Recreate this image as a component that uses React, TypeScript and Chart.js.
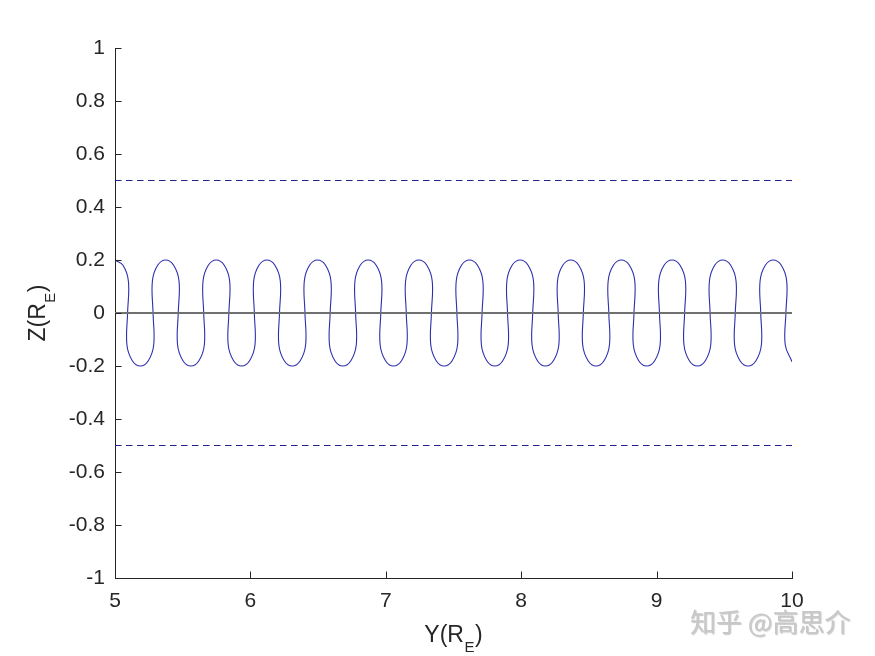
import React, { useEffect, useRef } from 'react';
import { Chart, registerables } from 'chart.js';

Chart.register(...registerables);

const xTickValues = [5, 6, 7, 8, 9, 10];
const xTickLabels = ['5', '6', '7', '8', '9', '10'];
const yTickValues = [-1, -0.8, -0.6, -0.4, -0.2, 0, 0.2, 0.4, 0.6, 0.8, 1];
const yTickLabels = ['-1', '-0.8', '-0.6', '-0.4', '-0.2', '0', '0.2', '0.4', '0.6', '0.8', '1'];

const boundaryY = [5, 10];
const upperBoundZ = [0.5, 0.5];
const lowerBoundZ = [-0.5, -0.5];
const centerZ = [0, 0];

const curveY = [
  5.000, 5.059, 5.099, 5.093, 5.088, 5.128, 5.187, 5.246, 5.286, 5.281, 5.276, 5.315,
  5.374, 5.433, 5.473, 5.467, 5.462, 5.502, 5.561, 5.620, 5.660, 5.655, 5.650, 5.689,
  5.748, 5.807, 5.847, 5.841, 5.836, 5.876, 5.935, 5.994, 6.034, 6.029, 6.024, 6.063,
  6.122, 6.181, 6.221, 6.215, 6.210, 6.250, 6.309, 6.368, 6.408, 6.403, 6.398, 6.437,
  6.496, 6.555, 6.595, 6.589, 6.584, 6.624, 6.683, 6.742, 6.782, 6.777, 6.772, 6.811,
  6.870, 6.929, 6.969, 6.963, 6.958, 6.998, 7.057, 7.116, 7.156, 7.151, 7.146, 7.185,
  7.244, 7.303, 7.343, 7.337, 7.332, 7.372, 7.431, 7.490, 7.530, 7.525, 7.520, 7.559,
  7.618, 7.677, 7.717, 7.711, 7.706, 7.746, 7.805, 7.864, 7.904, 7.899, 7.894, 7.933,
  7.992, 8.051, 8.091, 8.085, 8.080, 8.120, 8.179, 8.238, 8.278, 8.273, 8.268, 8.307,
  8.366, 8.425, 8.465, 8.459, 8.454, 8.494, 8.553, 8.612, 8.652, 8.647, 8.642, 8.681,
  8.740, 8.799, 8.839, 8.833, 8.828, 8.868, 8.927, 8.986, 9.026, 9.021, 9.016, 9.055,
  9.114, 9.173, 9.213, 9.207, 9.202, 9.242, 9.301, 9.360, 9.400, 9.395, 9.390, 9.429,
  9.488, 9.547, 9.587, 9.581, 9.576, 9.616, 9.675, 9.734, 9.774, 9.769, 9.764, 9.803,
  9.862, 9.921, 9.961, 9.955, 9.950, 10.000,
];

const curveZ = [
  0.2, 0.18, 0.12, 0, -0.12, -0.18, -0.2, -0.18, -0.12, 0, 0.12, 0.18,
  0.2, 0.18, 0.12, 0, -0.12, -0.18, -0.2, -0.18, -0.12, 0, 0.12, 0.18,
  0.2, 0.18, 0.12, 0, -0.12, -0.18, -0.2, -0.18, -0.12, 0, 0.12, 0.18,
  0.2, 0.18, 0.12, 0, -0.12, -0.18, -0.2, -0.18, -0.12, 0, 0.12, 0.18,
  0.2, 0.18, 0.12, 0, -0.12, -0.18, -0.2, -0.18, -0.12, 0, 0.12, 0.18,
  0.2, 0.18, 0.12, 0, -0.12, -0.18, -0.2, -0.18, -0.12, 0, 0.12, 0.18,
  0.2, 0.18, 0.12, 0, -0.12, -0.18, -0.2, -0.18, -0.12, 0, 0.12, 0.18,
  0.2, 0.18, 0.12, 0, -0.12, -0.18, -0.2, -0.18, -0.12, 0, 0.12, 0.18,
  0.2, 0.18, 0.12, 0, -0.12, -0.18, -0.2, -0.18, -0.12, 0, 0.12, 0.18,
  0.2, 0.18, 0.12, 0, -0.12, -0.18, -0.2, -0.18, -0.12, 0, 0.12, 0.18,
  0.2, 0.18, 0.12, 0, -0.12, -0.18, -0.2, -0.18, -0.12, 0, 0.12, 0.18,
  0.2, 0.18, 0.12, 0, -0.12, -0.18, -0.2, -0.18, -0.12, 0, 0.12, 0.18,
  0.2, 0.18, 0.12, 0, -0.12, -0.18, -0.2, -0.18, -0.12, 0, 0.12, 0.18,
  0.2, 0.18, 0.12, 0, -0.12, -0.184,
];

const xTitle = ['Y(R', 'E', ')'];
const yTitle = ['Z(R', 'E', ')'];
const watermark = '知乎 @高思介';

const FONT = '"Liberation Sans", Arial, Helvetica, sans-serif';
const AXIS_COLOR = '#262626';
const DASH_COLOR = '#222288';

const toPoints = (xs: number[], ys: number[]) => xs.map((x, i) => ({ x, y: ys[i] }));

const decorPlugin = {
  id: 'decor',
  afterDraw(chart: any) {
    const ctx: CanvasRenderingContext2D = chart.ctx;
    const { left, right, top, bottom } = chart.chartArea;
    const xs = chart.scales.x;
    const ys = chart.scales.y;
    ctx.save();
    // inward tick marks
    ctx.strokeStyle = AXIS_COLOR;
    ctx.lineWidth = 1;
    ctx.beginPath();
    xTickValues.forEach((v) => {
      const px = Math.round(xs.getPixelForValue(v)) + 0.5;
      ctx.moveTo(px, bottom);
      ctx.lineTo(px, bottom - 6.5);
    });
    yTickValues.forEach((v) => {
      const py = Math.round(ys.getPixelForValue(v)) + 0.5;
      ctx.moveTo(left, py);
      ctx.lineTo(left + 6.5, py);
    });
    ctx.stroke();

    const drawTitle = (parts: string[]) => {
      ctx.fillStyle = AXIS_COLOR;
      ctx.textBaseline = 'alphabetic';
      ctx.textAlign = 'left';
      const mainFont = `23px ${FONT}`;
      const subFont = `15px ${FONT}`;
      ctx.font = mainFont;
      const w0 = ctx.measureText(parts[0]).width;
      const w2 = ctx.measureText(parts[2]).width;
      ctx.font = subFont;
      const w1 = ctx.measureText(parts[1]).width;
      const total = w0 + w1 + w2 + 1;
      let x = -total / 2;
      ctx.font = mainFont;
      ctx.fillText(parts[0], x, 0);
      x += w0 + 0.5;
      ctx.font = subFont;
      ctx.fillText(parts[1], x, 10);
      x += w1 + 0.5;
      ctx.font = mainFont;
      ctx.fillText(parts[2], x, 0);
    };

    ctx.save();
    ctx.translate((left + right) / 2, 642);
    drawTitle(xTitle);
    ctx.restore();

    ctx.save();
    ctx.translate(45, (top + bottom) / 2);
    ctx.rotate(-Math.PI / 2);
    drawTitle(yTitle);
    ctx.restore();

    // watermark
    ctx.save();
    ctx.font = `26px "Noto Sans CJK SC", sans-serif`;
    ctx.textAlign = 'left';
    ctx.textBaseline = 'alphabetic';
    ctx.shadowColor = 'rgba(0,0,0,0.22)';
    ctx.shadowOffsetX = 1;
    ctx.shadowOffsetY = 1;
    ctx.shadowBlur = 1;
    ctx.fillStyle = '#c8c8c8';
    ctx.fillText(watermark, 690, 632);
    ctx.restore();

    ctx.restore();
  },
};

export default function App() {
  const canvasRef = useRef<HTMLCanvasElement | null>(null);

  useEffect(() => {
    const canvas = canvasRef.current;
    if (!canvas) return;
    const tickFont = { family: FONT, size: 21 };
    const chart = new Chart(canvas, {
      type: 'scatter',
      data: {
        datasets: [
          {
            label: 'center',
            data: toPoints(boundaryY, centerZ),
            showLine: true,
            borderColor: '#707070',
            borderWidth: 2,
            pointRadius: 0,
            order: 0,
          },
          {
            label: 'trajectory',
            data: toPoints(curveY, curveZ),
            showLine: true,
            borderColor: '#2e2eae',
            borderWidth: 1.1,
            pointRadius: 0,
            tension: 0.4,
            order: 1,
          },
          {
            label: 'upper',
            data: toPoints(boundaryY, upperBoundZ),
            showLine: true,
            borderColor: DASH_COLOR,
            borderWidth: 1.2,
            borderDash: [6.5, 4.5],
            pointRadius: 0,
            order: 2,
          },
          {
            label: 'lower',
            data: toPoints(boundaryY, lowerBoundZ),
            showLine: true,
            borderColor: DASH_COLOR,
            borderWidth: 1.2,
            borderDash: [6.5, 4.5],
            pointRadius: 0,
            order: 2,
          },
        ],
      },
      options: {
        responsive: false,
        animation: false,
        events: [],
        layout: { padding: { top: 48, right: 83, left: 0, bottom: 0 } },
        plugins: {
          legend: { display: false },
          tooltip: { enabled: false },
        },
        scales: {
          x: {
            type: 'linear',
            min: 5,
            max: 10,
            grid: { display: false, drawTicks: false },
            border: { display: true, color: AXIS_COLOR, width: 1 },
            afterBuildTicks: (s: any) => {
              s.ticks = xTickValues.map((v) => ({ value: v }));
            },
            afterFit: (s: any) => {
              s.height = 78;
            },
            ticks: {
              callback: (_v: any, i: number) => xTickLabels[i],
              font: tickFont,
              color: AXIS_COLOR,
              padding: 11,
              maxRotation: 0,
              autoSkip: false,
            },
          },
          y: {
            type: 'linear',
            min: -1,
            max: 1,
            grid: { display: false, drawTicks: false },
            border: { display: true, color: AXIS_COLOR, width: 1 },
            afterBuildTicks: (s: any) => {
              s.ticks = yTickValues.map((v) => ({ value: v }));
            },
            afterFit: (s: any) => {
              s.width = 115;
            },
            ticks: {
              callback: (_v: any, i: number) => yTickLabels[i],
              font: tickFont,
              color: AXIS_COLOR,
              padding: 10,
              autoSkip: false,
            },
          },
        },
      },
      plugins: [decorPlugin],
    } as any);
    return () => chart.destroy();
  }, []);

  return (
    <div style={{ position: 'absolute', left: 0, top: 0, width: 875, height: 656, background: '#ffffff' }}>
      <canvas ref={canvasRef} width={875} height={656} style={{ display: 'block' }} />
    </div>
  );
}
